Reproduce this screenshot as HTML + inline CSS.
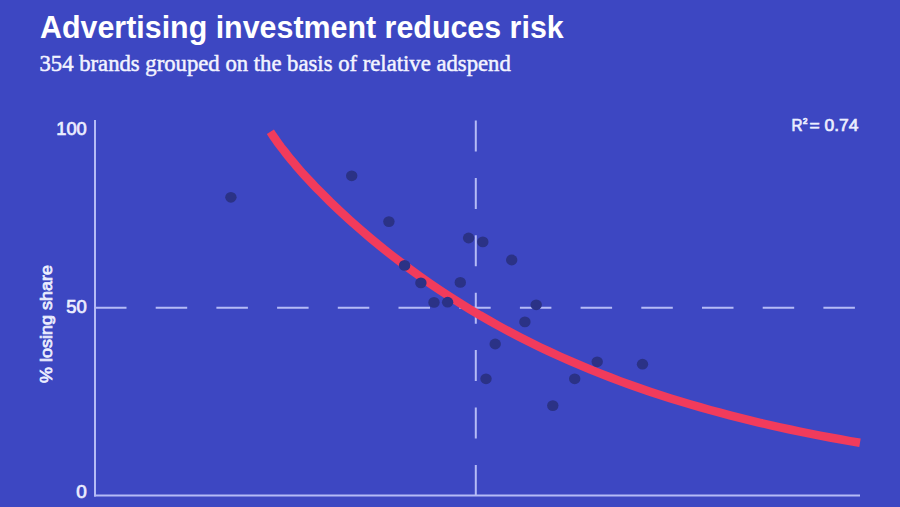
<!DOCTYPE html>
<html><head><meta charset="utf-8">
<style>
html,body{margin:0;padding:0;}
body{width:900px;height:507px;overflow:hidden;background:#3d47c2;position:relative;}
.t{position:absolute;left:40px;top:8.5px;font-family:"Liberation Sans",sans-serif;font-weight:bold;font-size:31.5px;transform:scaleX(0.965);transform-origin:0 0;color:#fff;white-space:nowrap;}
.s{position:absolute;left:39.5px;top:51px;font-family:"Liberation Serif",serif;font-size:22.7px;color:#f2f3ff;white-space:nowrap;-webkit-text-stroke:0.5px #f2f3ff;}
svg{position:absolute;left:0;top:0;}

svg text{font-family:"Liberation Sans",sans-serif;fill:#eceeff;stroke:#eceeff;stroke-width:0.7px;}
</style></head><body>
<div class="t">Advertising investment reduces risk</div>
<div class="s">354 brands grouped on the basis of relative adspend</div>
<svg width="900" height="507" viewBox="0 0 900 507">
<g stroke="#b5bbf6" stroke-width="2" fill="none">
<line x1="95" y1="120" x2="95" y2="496.5"/>
<line x1="94" y1="495.5" x2="860" y2="495.5"/>
<line x1="95" y1="307.8" x2="855" y2="307.8" stroke-dasharray="31.5 29.2"/>
<line x1="475.8" y1="120.5" x2="475.8" y2="495" stroke-dasharray="31 26.4"/>
</g>
<path d="M270.4,131.8 L273.0,135.8 L275.6,139.5 L278.2,143.2 L280.8,146.8 L283.5,150.2 L286.1,153.5 L288.7,156.8 L291.3,160.0 L293.9,163.1 L296.5,166.2 L299.1,169.2 L301.7,172.2 L304.3,175.1 L306.9,177.9 L309.6,180.7 L312.2,183.5 L314.8,186.3 L317.4,189.0 L320.0,191.6 L330.0,201.6 L340.0,211.1 L350.0,220.3 L360.0,229.1 L370.0,237.7 L380.0,246.0 L390.0,254.0 L400.0,261.7 L410.0,269.2 L420.0,276.4 L430.0,283.4 L440.0,290.2 L450.0,296.8 L460.0,303.1 L470.0,309.3 L480.0,315.3 L490.0,321.0 L500.0,326.6 L510.0,332.0 L520.0,337.2 L530.0,342.3 L540.0,347.2 L550.0,351.9 L560.0,356.5 L570.0,360.9 L580.0,365.2 L590.0,369.4 L600.0,373.4 L610.0,377.3 L620.0,381.1 L630.0,384.7 L640.0,388.3 L650.0,391.7 L660.0,395.0 L670.0,398.2 L680.0,401.3 L690.0,404.3 L700.0,407.2 L710.0,410.0 L720.0,412.7 L730.0,415.4 L740.0,417.9 L750.0,420.4 L760.0,422.8 L770.0,425.1 L780.0,427.3 L790.0,429.5 L800.0,431.6 L810.0,433.6 L820.0,435.6 L830.0,437.5 L840.0,439.3 L850.0,441.1 L860.0,442.8" fill="none" stroke="#f13b5c" stroke-width="8.5"/>
<g fill="#2b3286">
<ellipse cx="230.9" cy="197.3" rx="5.7" ry="5.4"/>
<ellipse cx="351.7" cy="175.8" rx="5.7" ry="5.4"/>
<ellipse cx="388.9" cy="221.6" rx="5.7" ry="5.4"/>
<ellipse cx="404.6" cy="265.4" rx="5.7" ry="5.4"/>
<ellipse cx="420.9" cy="282.9" rx="5.7" ry="5.4"/>
<ellipse cx="434" cy="302.4" rx="5.7" ry="5.4"/>
<ellipse cx="447.6" cy="302.2" rx="5.7" ry="5.4"/>
<ellipse cx="460.3" cy="282.4" rx="5.7" ry="5.4"/>
<ellipse cx="468.6" cy="238" rx="5.7" ry="5.4"/>
<ellipse cx="482.8" cy="241.9" rx="5.7" ry="5.4"/>
<ellipse cx="511.7" cy="260" rx="5.7" ry="5.4"/>
<ellipse cx="536.2" cy="304.8" rx="5.7" ry="5.4"/>
<ellipse cx="524.9" cy="321.9" rx="5.7" ry="5.4"/>
<ellipse cx="495.2" cy="344" rx="5.7" ry="5.4"/>
<ellipse cx="486" cy="378.8" rx="5.7" ry="5.4"/>
<ellipse cx="552.8" cy="405.6" rx="5.7" ry="5.4"/>
<ellipse cx="574.7" cy="378.8" rx="5.7" ry="5.4"/>
<ellipse cx="597.2" cy="361.8" rx="5.7" ry="5.4"/>
<ellipse cx="642.5" cy="364.2" rx="5.7" ry="5.4"/>
</g>
<g font-size="18">
<text x="86.8" y="135" text-anchor="end" textLength="30.5" lengthAdjust="spacingAndGlyphs">100</text>
<text x="86.8" y="313.2" text-anchor="end" textLength="20.5" lengthAdjust="spacingAndGlyphs">50</text>
<text x="86.8" y="498.3" text-anchor="end" textLength="10.5" lengthAdjust="spacingAndGlyphs">0</text>
</g>
<text transform="translate(51.5,324) rotate(-90)" font-size="15.8" stroke-width="0.8" text-anchor="middle" textLength="118" lengthAdjust="spacingAndGlyphs">% losing share</text>
<text y="131" font-size="17"><tspan x="791.5" textLength="11" lengthAdjust="spacingAndGlyphs">R</tspan><tspan x="803" font-size="13" dy="-4.5">²</tspan><tspan x="809.5" dy="4.5" textLength="49" lengthAdjust="spacingAndGlyphs">= 0.74</tspan></text>
</svg>
</body></html>
